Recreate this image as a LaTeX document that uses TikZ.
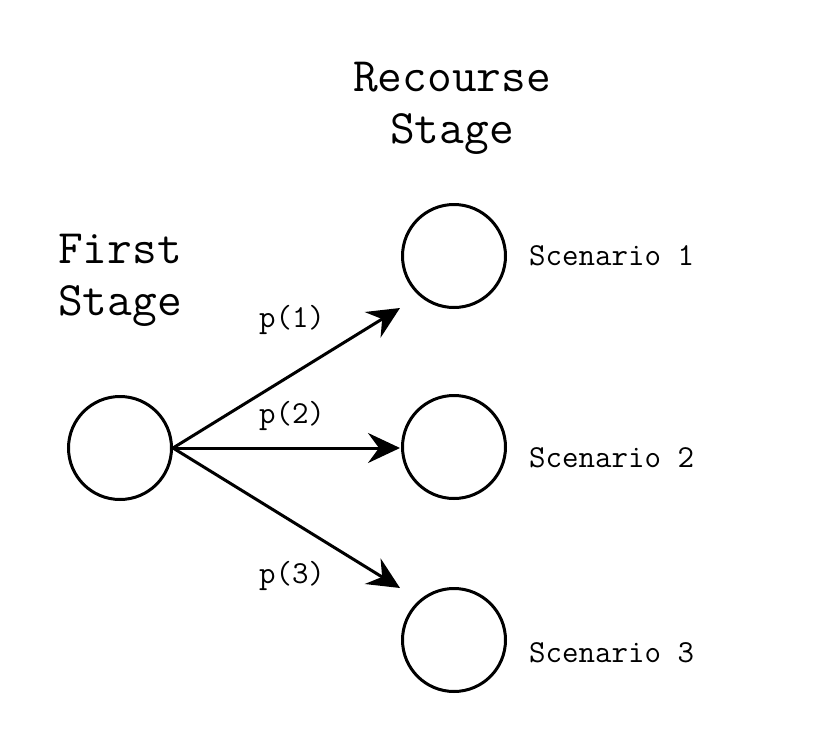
\documentclass[tikz,border=0pt]{standalone}
\usepackage{fontspec}
\usetikzlibrary{arrows.meta, positioning}

\begin{document}
\begin{tikzpicture}[
    x=1pt, y=-1pt,
    stagenode/.style={circle, draw, line width=3pt, minimum size=103pt, inner sep=0pt},
    title/.style={font=\fontsize{48}{52}\selectfont\ttfamily, align=center,
                  anchor=base, inner sep=0pt},
    lbl/.style={font=\fontsize{32}{34}\selectfont\ttfamily, anchor=base, inner sep=0pt},
    arr/.style={-{Stealth[length=32pt, width=30pt, inset=11pt]}, line width=3pt}
  ]
  \useasboundingbox (0,0) rectangle (828,734);

  \node[stagenode] (first) at (120,448) {};
  \node[stagenode] (sc1)   at (454,256) {};
  \node[stagenode] (sc2)   at (454,447) {};
  \node[stagenode] (sc3)   at (454,640) {};

  % base anchor sits on the last line
  \node[title] (firstlbl) at (120,315) {First\\Stage};
  \node[title] (reclbl)   at (452,143) {Recourse\\Stage};

  \node[lbl, anchor=base west] (sclbl1) at (529,265) {Scenario 1};
  \node[lbl, anchor=base west] (sclbl2) at (529,467) {Scenario 2};
  \node[lbl, anchor=base west] (sclbl3) at (529,662) {Scenario 3};

  \coordinate (end1) at (400,308);
  \coordinate (end2) at (400,448);
  \coordinate (end3) at (400,588);

  \draw[arr] (first.east) -- (end1);
  \draw[arr] (first.east) -- (end2);
  \draw[arr] (first.east) -- (end3);

  \node[lbl] (p1) at (292,327) {p(1)};
  \node[lbl] (p2) at (292,423) {p(2)};
  \node[lbl] (p3) at (292,583) {p(3)};
\end{tikzpicture}
\end{document}
